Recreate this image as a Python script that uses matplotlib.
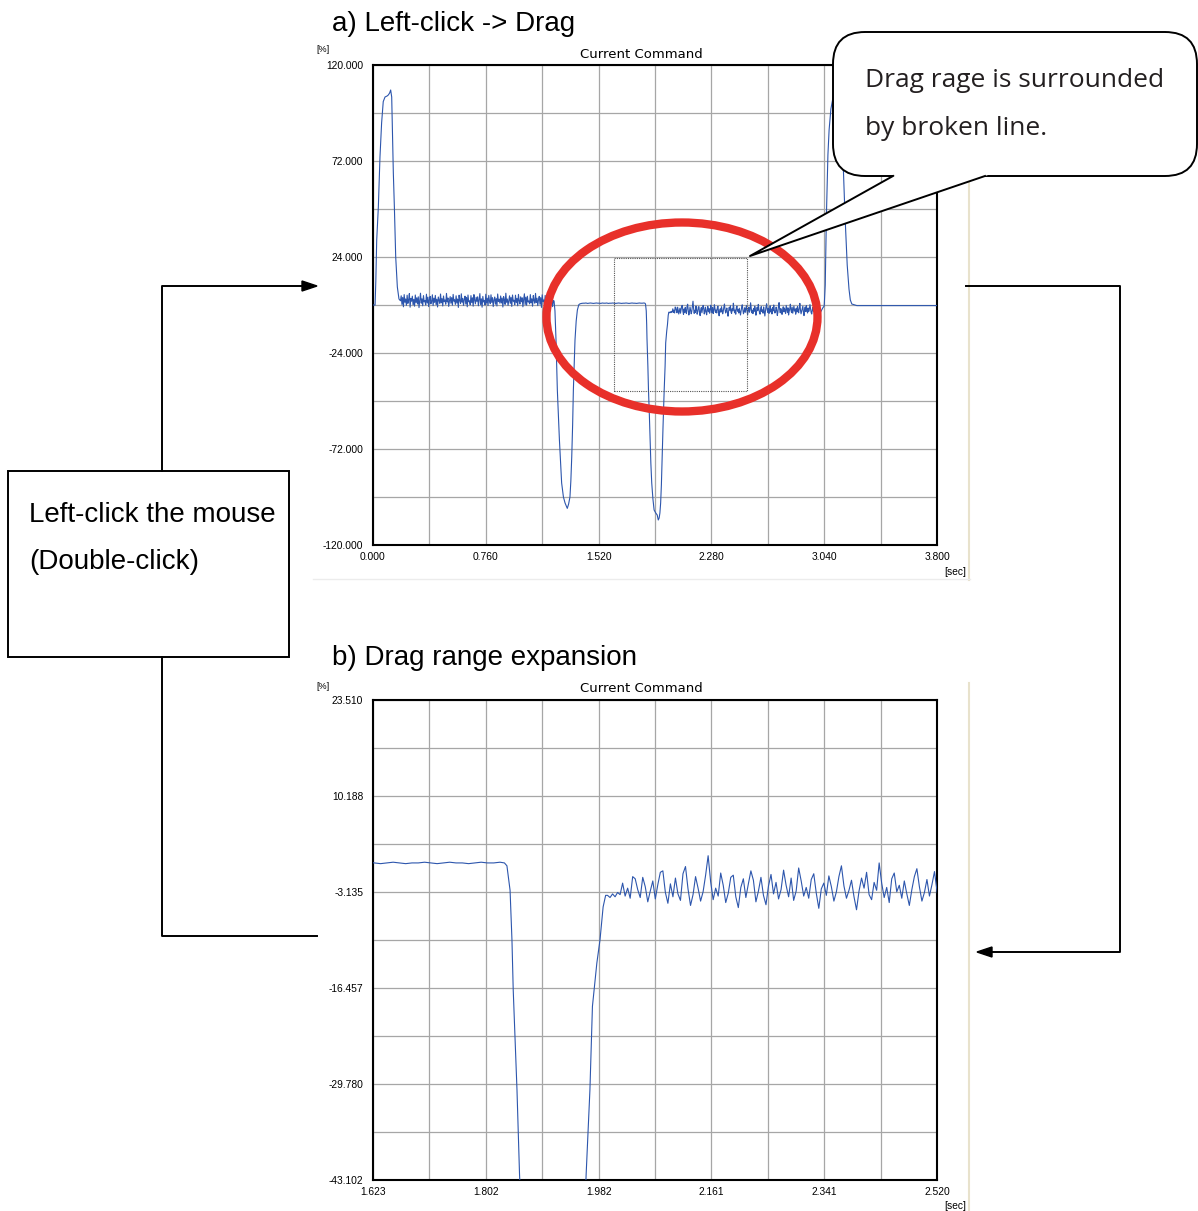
import numpy as np
import matplotlib
matplotlib.use("Agg")
import matplotlib.pyplot as plt
from matplotlib.patches import Ellipse, Rectangle, FancyBboxPatch, Polygon

# ---------------- data ----------------
# start-up spike, breakpoints [s] / [%]
spike1_t = [0.000, 0.014, 0.019, 0.025, 0.036, 0.047, 0.058, 0.069, 0.081, 0.095,
            0.103, 0.112, 0.119, 0.126, 0.130, 0.137, 0.144, 0.153, 0.164, 0.175]
spike1_v = [0.0, 0.0, 12.0, 32.5, 49.0, 74.0, 91.0, 101.7, 104.0, 104.5,
            105.0, 106.0, 107.5, 104.0, 91.0, 66.0, 49.0, 24.0, 9.0, 3.0]

# noisy hold after the spike, sampled every 5 ms from 0.185 s
noise1_start, noise1_step = 0.185, 0.005
noise1_v = [
    2.1, 4.6, 0.3, 3.8, -0.9, 5.2, 1.4, 3.0, -0.2, 4.9,
    0.8, 2.6, 5.7, -1.1, 3.3, 1.9, 4.4, 0.1, 2.8, -0.6,
    5.0, 1.2, 3.6, 0.5, 4.1, -1.3, 2.4, 5.9, 0.9, 3.1,
    -0.4, 4.7, 1.6, 2.2, 0.0, 5.4, 1.0, 3.9, -0.8, 2.7,
    4.3, 0.6, 1.8, 5.1, -0.3, 3.4, 1.3, 4.8, 0.2, 2.9,
    -1.0, 4.0, 2.3, 0.7, 5.5, 1.1, 3.2, -0.5, 4.5, 1.7,
    2.5, 0.4, 5.8, 1.5, 3.5, -0.7, 2.0, 4.2, 0.9, 3.7,
    -0.1, 5.3, 1.9, 2.6, 0.3, 4.6, 1.0, 3.0, -1.2, 4.9,
    2.2, 0.8, 5.6, 1.4, 3.3, -0.2, 2.8, 4.4, 0.5, 3.8,
    -0.9, 5.0, 1.6, 2.1, 0.1, 4.7, 1.2, 3.6, -0.6, 5.2,
    2.4, 0.6, 3.9, 1.8, 4.1, -0.4, 2.7, 5.7, 0.2, 3.1,
    -1.1, 4.3, 1.5, 2.3, 0.0, 5.4, 1.1, 3.4, -0.3, 4.8,
    2.0, 0.7, 5.1, 1.3, 3.7, -0.8, 2.5, 4.0, 0.4, 3.2,
    -0.5, 5.5, 1.7, 2.9, 0.9, 4.5, 1.0, 3.5, -1.0, 4.2,
    2.6, 0.3, 5.9, 1.4, 3.0, -0.2, 2.2, 4.6, 0.8, 3.8,
    -0.7, 5.0, 1.9, 2.4, 0.1, 4.9, 1.2, 3.3, -0.4, 5.3,
    2.1, 0.5, 4.1, 1.6, 3.6, -0.9, 2.8, 5.6, 0.2, 3.9,
    -0.1, 4.4, 1.5, 2.0, 0.6, 5.2, 1.1, 3.1, -0.6, 4.7,
    2.3, 0.9, 5.8, 1.3, 3.4, -0.3, 2.6, 4.3, 0.4, 3.7,
    -1.2, 5.1, 1.8, 2.5, 0.0, 4.8, 1.0, 3.2, -0.5, 4.0,
    2.7, 0.7, 5.4, 1.4, 3.5, -0.8, 2.2]

# first negative dip
dip1_t = [1.220, 1.226, 1.233, 1.242, 1.256, 1.271, 1.283, 1.294, 1.302, 1.309,
          1.318, 1.327, 1.333, 1.339, 1.345, 1.350, 1.356, 1.361, 1.369, 1.377, 1.387]
dip1_v = [2.0, -3.0, -17.5, -42.5, -67.5, -89.0, -96.0, -99.0, -100.5, -101.7,
          -99.5, -96.0, -88.0, -76.0, -60.0, -42.5, -28.0, -17.5, -8.0, -2.5, 0.2]

# quiet hold, sampled every 10 ms from 1.395 s
flat_start, flat_step = 1.395, 0.010
flat_v = [0.6, 0.8, 0.9, 0.9, 1.0, 0.8, 0.9, 1.0, 0.9, 0.8, 0.9, 1.0, 0.9, 0.9, 0.8,
          1.0, 0.9, 0.9, 1.0, 0.8, 0.9, 0.9, 1.0, 0.9, 0.8, 0.9, 1.0, 0.9, 0.8, 0.9,
          0.9, 1.0, 0.9, 0.8, 0.9, 1.0, 0.9, 0.9, 0.8, 0.9, 1.0, 0.9, 0.9, 1.0]

# second negative dip
dip2_t = [1.832, 1.836, 1.841, 1.844, 1.846, 1.849, 1.852, 1.856, 1.862, 1.867,
          1.872, 1.878, 1.886, 1.894, 1.905, 1.915, 1.922, 1.928, 1.933, 1.938,
          1.943, 1.948, 1.954, 1.962, 1.968, 1.972, 1.979, 1.984, 1.989, 1.993]
dip2_v = [0.9, 0.5, -2.9, -9.8, -16.7, -23.7, -30.6, -42.2, -55.0, -67.5,
          -79.0, -89.0, -97.0, -102.5, -104.0, -105.0, -107.5, -106.5, -104.0, -99.0,
          -90.0, -76.0, -61.0, -42.3, -30.6, -19.0, -13.0, -9.8, -5.2, -3.6]

# noisy hold after the second dip, sampled every 4 ms from 1.996 s
noise2_start, noise2_step = 1.996, 0.004
noise2_v = [
    -3.6, -3.9, -3.4, -3.8, -3.2, -3.5, -1.9, -3.7, -2.6, -4.0,
    -1.0, -1.3, -2.8, -3.9, -1.1, -2.4, -4.5, -3.0, -1.6, -4.1,
    -2.1, -0.4, -0.2, -3.2, -4.7, -2.0, -3.8, -1.2, -3.4, -4.3,
    -0.6, 0.4, -2.7, -5.0, -3.5, -1.0, -2.6, -4.4, -3.1, -0.8,
    1.9, -1.7, -4.2, -2.6, -3.7, -0.5, -2.2, -4.6, -3.3, -1.1,
    -0.8, -3.8, -5.3, -2.5, -1.3, -3.9, -2.0, -0.2, -1.5, -4.5,
    -3.0, -1.1, -3.6, -4.9, -2.3, -0.7, -3.4, -1.8, -4.1, -2.8,
    -0.1, -2.2, -3.8, -1.2, -4.3, -3.0, 0.2, -1.6, -3.7, -2.5,
    -4.0, -1.4, -0.6, -3.3, -5.4, -2.7, -1.9, -3.6, -0.9, -2.4,
    -4.4, -3.1, -1.0, 0.5, -2.3, -4.0, -2.9, -1.5, -3.8, -5.6,
    -3.0, -1.2, -2.6, -0.4, -3.5, -4.2, -1.8, -2.9, 0.9, -1.9,
    -3.9, -2.5, -4.6, -1.3, -0.5, -3.1, -2.2, -4.0, -1.6, -3.4,
    -5.0, -2.8, -1.0, 0.1, -2.4, -4.4, -3.2, -1.4, -3.7, -2.1,
    -0.3, -3.0, -4.8, -2.2, -1.1, -3.6, -2.7, 1.1, -1.5, -3.9,
    -2.6, -4.3, -1.7, -3.2, -0.6, -2.0, -5.1, -3.4, -1.2, -2.8,
    0.3, -2.1, -3.8, -4.6, -1.9, -0.8, -3.3, -2.5, -4.1, -1.0,
    -2.9, -5.5, -3.1, -0.9, 0.6, -2.3, -3.7, -1.6, -4.2, -2.7,
    -0.4, -3.5, -2.0, -4.5, -1.3, -3.0, 0.0, -2.6, -4.0, -3.3,
    -1.1, -2.4, -5.2, -3.6, -0.7, 1.2, -2.2, -3.9, -1.8, -3.1,
    -4.7, -2.5, -0.9, -3.4, -1.5, -2.8, -4.3, -0.2, -2.0, -3.7,
    -1.4, -5.0, -3.2, -1.9, 0.4, -2.6, -3.8, -1.1, -4.1, -2.3,
    -0.5, -3.0, -2.1, -4.6, -1.6, -3.5, -0.8, -2.7, -3.9, -1.3,
    0.8, -2.4, -4.4, -3.1, -1.7, -0.6, -3.6, -5.3, -2.2, -1.0,
    -3.3, -0.3, -2.8, -4.0, -1.5, -3.2, -2.0, 0.2, -1.9, -3.8,
    -4.5, -2.3, -1.2, -3.4, -0.9, -2.6, -4.1, -1.4, -3.0, -0.4,
    -2.5, -3.7, -1.8, -3.1, -2.2, -3.5, -2.9]

# final spike and rest
spike2_t = [3.030, 3.040, 3.047, 3.055, 3.065, 3.073, 3.085, 3.100, 3.120, 3.140,
            3.150, 3.158, 3.167, 3.180, 3.195, 3.207, 3.216, 3.226, 3.260, 3.800]
spike2_v = [-1.5, -0.5, 10.0, 45.0, 75.0, 87.5, 98.0, 104.0, 106.0, 105.0,
            100.0, 88.0, 72.5, 45.0, 20.0, 8.0, 2.5, 0.5, -0.3, -0.3]

# axis settings of the two scope views
full_xlim = (0.0, 3.8)
full_ylim = (-120.0, 120.0)
full_xlabels = ["0.000", "0.760", "1.520", "2.280", "3.040", "3.800"]
full_ylabels = ["120.000", "72.000", "24.000", "-24.000", "-72.000", "-120.000"]

zoom_xlim = (1.623, 2.520)
zoom_ylim = (-43.102, 23.510)
zoom_xlabels = ["1.623", "1.802", "1.982", "2.161", "2.341", "2.520"]
zoom_ylabels = ["23.510", "10.188", "-3.135", "-16.457", "-29.780", "-43.102"]

# ---------------- assemble trace ----------------
def sampled(start, step, vals):
    return start + step * np.arange(len(vals))

t_all = np.concatenate([spike1_t, sampled(noise1_start, noise1_step, noise1_v),
                        dip1_t, sampled(flat_start, flat_step, flat_v),
                        dip2_t, sampled(noise2_start, noise2_step, noise2_v),
                        spike2_t])
v_all = np.concatenate([spike1_v, noise1_v, dip1_v, flat_v, dip2_v, noise2_v, spike2_v])

# ---------------- figure ----------------
W, H = 1198, 1211
fig = plt.figure(figsize=(W / 100, H / 100), dpi=100)
LINE = "#2d56ad"
TICKFONT = dict(family="Liberation Sans", size=7.4)
BIGFONT = "Liberation Sans"


def px_axes(x0, y0, x1, y1):
    return fig.add_axes([x0 / W, 1 - y1 / H, (x1 - x0) / W, (y1 - y0) / H])


def scope(ax, xlim, ylim, xlabels, ylabels):
    ax.plot(t_all, v_all, color=LINE, lw=0.8, zorder=3)
    ax.set_xlim(xlim)
    ax.set_ylim(ylim)
    xt = np.linspace(xlim[0], xlim[1], 11)
    yt = np.linspace(ylim[0], ylim[1], 11)
    ax.set_xticks(xt)
    ax.set_yticks(yt)
    ax.set_xticklabels([xlabels[i // 2] if i % 2 == 0 else "" for i in range(11)], **TICKFONT)
    ylab = ylabels[::-1]
    ax.set_yticklabels([ylab[i // 2] if i % 2 == 0 else "" for i in range(11)], **TICKFONT)
    ax.tick_params(length=0)
    ax.tick_params(axis="y", pad=7)
    ax.tick_params(axis="x", pad=5)
    ax.grid(True, color="#a6a6a6", lw=0.9)
    for s in ax.spines.values():
        s.set_linewidth(1.5)
        s.set_color("black")


ax1 = px_axes(373, 65, 937, 545)
scope(ax1, full_xlim, full_ylim, full_xlabels, full_ylabels)
# dotted drag range = limits of the lower view
ax1.add_patch(Rectangle((zoom_xlim[0], zoom_ylim[0]), zoom_xlim[1] - zoom_xlim[0],
                        zoom_ylim[1] - zoom_ylim[0], fill=False, ls=(0, (1, 1)),
                        lw=0.8, ec="#555555", zorder=4))

ax2 = px_axes(373, 700, 937, 1180)
scope(ax2, zoom_xlim, zoom_ylim, zoom_xlabels, zoom_ylabels)

# scope captions
for yy in (54, 689):
    fig.text(641 / W, 1 - yy / H, "Current Command", fontsize=9.5, ha="center", va="center")
fig.text(316 / W, 1 - 50 / H, "[%]", fontsize=6.5, family="Liberation Sans", va="center")
fig.text(316 / W, 1 - 686 / H, "[%]", fontsize=6.5, family="Liberation Sans", va="center")
fig.text(966 / W, 1 - 572 / H, "[sec]", fontsize=7.4, family="Liberation Sans", ha="right", va="center")
fig.text(966 / W, 1 - 1206 / H, "[sec]", fontsize=7.4, family="Liberation Sans", ha="right", va="center")

# ---------------- overlay in pixel coordinates ----------------
ov = fig.add_axes([0, 0, 1, 1])
ov.set_xlim(0, W)
ov.set_ylim(H, 0)
ov.axis("off")

# screenshot frame edges
ov.plot([969, 969], [45, 580], color="#e8e2cc", lw=1.5)
ov.plot([969, 969], [683, 1211], color="#e8e2cc", lw=1.5)
ov.plot([313, 970], [579, 579], color="#ececec", lw=1)

ov.text(332, 31, "a) Left-click -> Drag", fontsize=20, family=BIGFONT, va="baseline")
ov.text(332, 665, "b) Drag range expansion", fontsize=20, family=BIGFONT, va="baseline")

# left instruction box and connectors
ov.add_patch(Rectangle((8, 471), 281, 186, fill=False, ec="black", lw=1.4))
ov.text(29, 522, "Left-click the mouse", fontsize=20, family=BIGFONT, va="baseline")
ov.text(29, 569, "(Double-click)", fontsize=20, family=BIGFONT, va="baseline")
ov.plot([162, 162, 303], [471, 286, 286], color="black", lw=1.4)
ov.add_patch(Polygon([(317, 286), (302, 281), (302, 291)], closed=True, color="black"))
ov.plot([162, 162, 317], [657, 936, 936], color="black", lw=1.4)

# right connector
ov.plot([966, 1120, 1120, 991], [286, 286, 952, 952], color="black", lw=1.4)
ov.add_patch(Polygon([(977, 952), (992, 947), (992, 957)], closed=True, color="black"))

# red ellipse around the drag range
ov.add_patch(Ellipse((682, 317), 271, 189, fill=False, ec="#e8302a", lw=6, zorder=5))

# speech bubble
ov.add_patch(FancyBboxPatch((833, 32), 364, 144, boxstyle="round,pad=0,rounding_size=32",
                            fc="white", ec="black", lw=1.4, zorder=6))
ov.add_patch(Polygon([(900.2, 172), (750, 256), (996.8, 172)], closed=True,
                     fc="white", ec="none", zorder=7))
ov.plot([893, 750, 985], [176, 256, 176], color="black", lw=1.4, zorder=8)
ov.text(865, 87, "Drag rage is surrounded", fontsize=19, family="Open Sans",
        va="baseline", color="#231f20", zorder=9)
ov.text(865, 135, "by broken line.", fontsize=19, family="Open Sans",
        va="baseline", color="#231f20", zorder=9)

plt.savefig("out.png", dpi=100)
